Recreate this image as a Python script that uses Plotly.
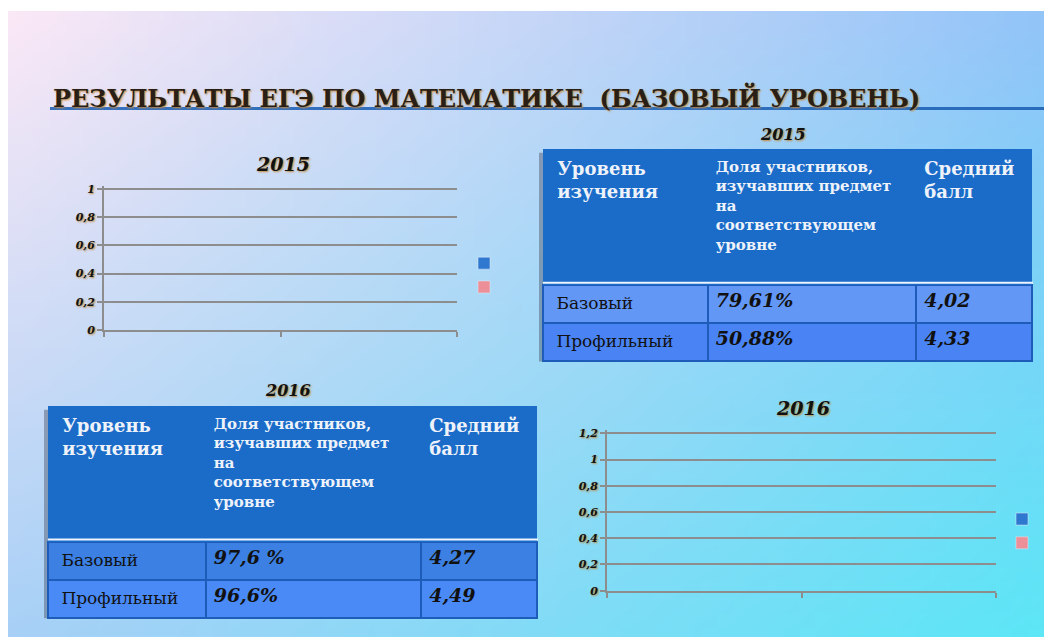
import base64
import struct
import zlib

import plotly.graph_objects as go

# the page keeps the browser's 8px body margin, so the figure itself is 8px
# smaller than the window and every reference pixel is shifted by 8
W, H = 1052, 644
OFF = 8
FW, FH = W - OFF, H - OFF

# ---- data -------------------------------------------------------------
slide_title = "РЕЗУЛЬТАТЫ ЕГЭ ПО МАТЕМАТИКЕ  (БАЗОВЫЙ УРОВЕНЬ)"
years = ["2015", "2016"]

table_header = [
    "Уровень<br>изучения",
    "Доля участников,<br>изучавших предмет<br>на<br>соответствующем<br>уровне",
    "Средний<br>балл",
]
levels = ["Базовый", "Профильный"]
share_2015 = ["79,61%", "50,88%"]
score_2015 = ["4,02", "4,33"]
share_2016 = ["97,6 %", "96,6%"]
score_2016 = ["4,27", "4,49"]

# the two bar charts on the slide are empty: two unnamed series, no values
series_names = [" ", " "]
series_colors = ["#2f78d0", "#ec8f98"]
bar_category = [1]
bars_2015 = [[None], [None]]
bars_2016 = [[None], [None]]
y_max = {"2015": 1.0, "2016": 1.2}

# ---- style ------------------------------------------------------------
GRID = "#8d8d8d"
SERIF = "DejaVu Serif"
HEAD_BG = "#1a6cc8"
TEXT_SHADOW = "1px 1px 2px #c28a3c"


def px_x(v):
    return (v - OFF) / FW


def px_y(v):
    return 1 - (v - OFF) / FH


def gradient_png(w, h, tl, tr, bl, br):
    raw = b""
    for j in range(h):
        v = j / (h - 1)
        row = b"\x00"
        for i in range(w):
            u = i / (w - 1)
            row += bytes(
                round((1 - u) * (1 - v) * tl[k] + u * (1 - v) * tr[k]
                      + (1 - u) * v * bl[k] + u * v * br[k])
                for k in range(3)
            )
        raw += row

    def chunk(tag, data):
        c = struct.pack(">I", len(data)) + tag + data
        return c + struct.pack(">I", zlib.crc32(tag + data) & 0xFFFFFFFF)

    png = b"\x89PNG\r\n\x1a\n"
    png += chunk(b"IHDR", struct.pack(">IIBBBBB", w, h, 8, 2, 0, 0, 0))
    png += chunk(b"IDAT", zlib.compress(raw, 9))
    png += chunk(b"IEND", b"")
    return "data:image/png;base64," + base64.b64encode(png).decode()


bg = gradient_png(64, 40, (250, 232, 246), (146, 196, 248), (168, 208, 246), (92, 230, 246))

fig = go.Figure()

# ---- empty bar charts -------------------------------------------------
for (xa, ya, leg), bars in zip([("x", "y", "legend"), ("x2", "y2", "legend2")], [bars_2015, bars_2016]):
    for name, color, vals in zip(series_names, series_colors, bars):
        fig.add_trace(go.Bar(x=bar_category, y=vals, name=name, marker_color=color,
                             xaxis=xa, yaxis=ya, legend=leg, showlegend=True))

axis_common = dict(zeroline=False, showline=True, linecolor=GRID, linewidth=2,
                   ticks="outside", tickcolor=GRID, tickwidth=2, ticklen=5, fixedrange=True)
tick_font = dict(family=SERIF, size=11, color="#111111", style="italic", weight="bold", shadow=TEXT_SHADOW)


def y_axis(top_px, zero_px, ymax):
    # pad the range a little so the top gridline is not clipped at the edge
    span = ymax * 1.02
    top = zero_px - (zero_px - top_px) * span / ymax
    return dict(domain=[px_y(zero_px), px_y(top)], range=[0, span], dtick=0.2,
                showgrid=True, gridcolor=GRID, gridwidth=2, tickfont=tick_font, **axis_common)


fig.update_layout(
    xaxis=dict(domain=[px_x(104), px_x(457)], anchor="y", range=[0, 2], tickvals=[0, 1, 2],
               showticklabels=False, showgrid=False, **axis_common),
    yaxis=dict(anchor="x", **y_axis(189, 332, y_max["2015"])),
    xaxis2=dict(domain=[px_x(607), px_x(996)], anchor="y2", range=[0, 2], tickvals=[0, 1, 2],
                showticklabels=False, showgrid=False, **axis_common),
    yaxis2=dict(anchor="x2", **y_axis(437, 597, y_max["2016"])),
    legend=dict(x=px_x(464), y=px_y(247), xanchor="left", yanchor="top", bgcolor="rgba(0,0,0,0)",
                font=dict(size=16), itemwidth=30, tracegroupgap=0),
    legend2=dict(x=px_x(1002), y=px_y(507), xanchor="left", yanchor="top", bgcolor="rgba(0,0,0,0)",
                 font=dict(size=16), itemwidth=30, tracegroupgap=0),
)

# ---- tables -----------------------------------------------------------
shapes = []
INDENT = "&nbsp;"


def add_table(x0, x1, y0, widths, share, score, row_fills):
    header_h, row_h = 135, 38
    y1 = y0 + header_h + row_h * len(levels)
    # soft drop shadow behind the table
    shapes.append(dict(type="rect", layer="below", x0=px_x(x0 - 4), x1=px_x(x1 - 1),
                       y0=px_y(y0 + 3), y1=px_y(y1 + 4), line_width=0,
                       fillcolor="rgba(70,80,100,0.45)"))
    # light rule under the header
    shapes.append(dict(type="line", layer="above", x0=px_x(x0), x1=px_x(x1),
                       y0=px_y(y0 + header_h), y1=px_y(y0 + header_h),
                       line=dict(color="#eef4ff", width=2)))
    header = [INDENT + table_header[0].replace("<br>", "<br>" + INDENT)] + table_header[1:]
    fig.add_trace(go.Table(
        domain=dict(x=[px_x(x0), px_x(x1)], y=[0, px_y(y0)]),
        columnwidth=widths,
        header=dict(
            values=header,
            fill_color=HEAD_BG,
            line=dict(color=HEAD_BG, width=1),
            align="left",
            height=header_h,
            font=dict(family=SERIF, size=[18, 15, 18], color="#eef2fa", weight="bold"),
        ),
        cells=dict(
            values=[[INDENT + v for v in levels], share, score],
            fill_color=[row_fills] * 3,
            line=dict(color="#1d5cb8", width=2),
            align="left",
            height=row_h,
            font=dict(family=SERIF, size=[17, 19, 19], color="#111111",
                      style=["normal", "italic", "italic"], weight=["normal", "bold", "bold"]),
        ),
    ))


add_table(543, 1033, 149, [165, 209, 116], share_2015, score_2015, ["#6297f6", "#4a84f4"])
add_table(48, 538, 410, [158, 216, 116], share_2016, score_2016, ["#3b80e2", "#4a8af6"])

# ---- titles -----------------------------------------------------------
year_font = dict(family=SERIF, size=19, color="#111111", style="italic", weight="bold", shadow=TEXT_SHADOW)
annotations = [
    dict(text=slide_title, x=px_x(51), y=px_y(96), xanchor="left",
         font=dict(family=SERIF, size=24, color="#2a1f16", weight="bold", shadow="1px 1px 2px #c8883c")),
    dict(text=years[0], x=px_x(283), y=px_y(163), xanchor="center", font=year_font),
    dict(text=years[1], x=px_x(803), y=px_y(411), xanchor="center", font=year_font),
    dict(text=years[0], x=px_x(783), y=px_y(133), xanchor="center", font={**year_font, "size": 16}),
    dict(text=years[1], x=px_x(288), y=px_y(394), xanchor="center", font={**year_font, "size": 16}),
]
for a in annotations:
    a.update(xref="paper", yref="paper", showarrow=False, yanchor="middle")

# title underline
shapes.append(dict(type="line", x0=px_x(50), x1=1, y0=px_y(107), y1=px_y(107),
                   line=dict(color="rgba(24,92,178,0.85)", width=3)))
for s in shapes:
    s.update(xref="paper", yref="paper")

fig.update_layout(
    width=FW, height=FH,
    margin=dict(l=0, r=0, t=0, b=0),
    paper_bgcolor="white",
    plot_bgcolor="rgba(0,0,0,0)",
    separators=", ",
    showlegend=True,
    annotations=annotations,
    shapes=shapes,
    images=[dict(source=bg, xref="paper", yref="paper", x=0, y=1, sizex=1, sizey=1,
                 xanchor="left", yanchor="top", sizing="stretch", layer="below")],
)

fig.write_html("out.html")
